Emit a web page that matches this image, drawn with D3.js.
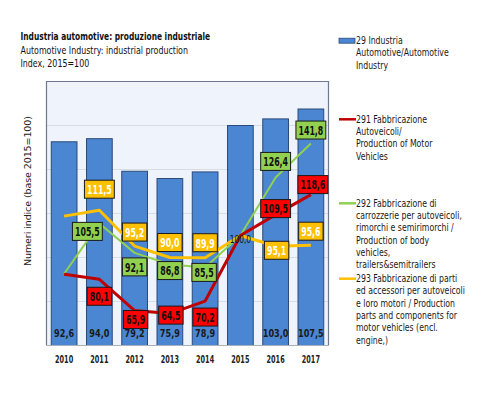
<!DOCTYPE html>
<html>
<head>
<meta charset="utf-8">
<script src="https://cdn.jsdelivr.net/npm/d3@7"></script>
<style>
  body { margin: 0; background: #fff; }
  svg text { font-family: "DejaVu Sans", sans-serif; }
</style>
</head>
<body>
<svg id="chart" width="485" height="393"></svg>
<script>
// Data
const years = ['2010', '2011', '2012', '2013', '2014', '2015', '2016', '2017']
const industry29 = [92.6, 94.0, 79.2, 75.9, 78.9, 100.0, 103.0, 107.5]
const vehicles291 = [82.4, 80.1, 65.9, 64.5, 70.2, 100.0, 109.5, 118.6]
const bodies292 = [82.6, 105.5, 92.1, 86.8, 85.5, 100.0, 126.4, 141.8]
const parts293 = [108.8, 111.5, 95.2, 90.0, 89.9, 100.0, 95.1, 95.6]
const barTicks = [20, 40, 60, 80, 100]

const titleLines = ['Industria automotive: produzione industriale', 'Automotive Industry: industrial production', 'Index, 2015=100']
const yTitle = 'Numeri indice (base 2015=100)'
const legendBlue = ['29 Industria', 'Automotive/Automotive', 'Industry']
const legendRed = ['291 Fabbricazione', 'Autoveicoli/', 'Production of Motor', 'Vehicles']
const legendGreen = ['292 Fabbricazione di', 'carrozzerie per autoveicoli,', 'rimorchi e semirimorchi /', 'Production of body', 'vehicles,', 'trailers&semitrailers']
const legendYellow = ['293 Fabbricazione di parti', 'ed accessori per autoveicoli', 'e loro motori / Production', 'parts and components for', 'motor vehicles (encl.', 'engine,)']

const fmt = v => d3.format('.1f')(v).replace('.', ',')

const svg = d3.select('#chart')
const plot = { left: 46.5, right: 328.5, top: 81.5, bottom: 345.5 }

const x = d3.scaleBand().domain(years).range([plot.left, plot.right]).paddingInner(0.27).paddingOuter(0.135)
const yBar = d3.scaleLinear().domain([0, 120]).range([plot.bottom, plot.top])
const yLine = d3.scaleLinear().domain([50, 170]).range([plot.bottom, plot.top])
const cx = d => x(d) + x.bandwidth() / 2

// the original uses a narrow font, squeeze the glyphs horizontally
const narrow = (sel, px, py, sx) => sel.attr('transform', `translate(${px},${py}) scale(${sx},1)`)

// Titles
svg.append('g').selectAll('text').data(titleLines).enter().append('text')
  .each(function (d, i) { narrow(d3.select(this), 20.5, 36 + i * 13.7, i === 0 ? 0.68 : 0.72) })
  .attr('dominant-baseline', 'central')
  .attr('font-size', 11)
  .attr('font-weight', (d, i) => i === 0 ? 'bold' : 'normal')
  .attr('fill', '#111')
  .text(d => d)

// Plot background + grid
svg.append('rect')
  .attr('x', plot.left).attr('y', plot.top)
  .attr('width', plot.right - plot.left).attr('height', plot.bottom - plot.top)
  .attr('fill', '#eef3fc')

svg.append('g').selectAll('line').data(barTicks).enter().append('line')
  .attr('x1', plot.left).attr('x2', plot.right)
  .attr('y1', d => yBar(d)).attr('y2', d => yBar(d))
  .attr('stroke', '#d8dce3').attr('stroke-width', 1)

// Bars
svg.append('g').selectAll('rect').data(industry29).enter().append('rect')
  .attr('x', (d, i) => x(years[i]))
  .attr('y', d => yBar(d))
  .attr('width', x.bandwidth())
  .attr('height', d => plot.bottom - yBar(d))
  .attr('fill', '#4a86d2')
  .attr('stroke', '#2c4a78')
  .attr('stroke-width', 1)

svg.append('g').selectAll('text').data(industry29).enter().append('text')
  .each(function (d, i) { narrow(d3.select(this), cx(years[i]), 333.5, 0.74) })
  .attr('text-anchor', 'middle')
  .attr('dominant-baseline', 'central')
  .attr('font-size', 11)
  .attr('font-weight', 'bold')
  .attr('fill', '#1a1a1a')
  .text((d, i) => years[i] === '2015' ? '' : fmt(d))

// Plot frame
svg.append('path')
  .attr('d', `M${plot.left},${plot.bottom}V${plot.top}H${plot.right}V${plot.bottom}`)
  .attr('fill', 'none').attr('stroke', '#6e7a92').attr('stroke-width', 1.2)
svg.append('line')
  .attr('x1', plot.left).attr('x2', plot.right)
  .attr('y1', plot.bottom).attr('y2', plot.bottom)
  .attr('stroke', '#a9b0bb').attr('stroke-width', 1)

// X axis labels
svg.append('g').selectAll('text').data(years).enter().append('text')
  .each(function (d) { narrow(d3.select(this), cx(d), 359, 0.62) })
  .attr('text-anchor', 'middle')
  .attr('dominant-baseline', 'central')
  .attr('font-size', 10.5)
  .attr('font-weight', 'bold')
  .attr('fill', '#222')
  .text(d => d)

// Y axis title
svg.append('text')
  .attr('transform', 'translate(27,191) rotate(-90)')
  .attr('text-anchor', 'middle')
  .attr('dominant-baseline', 'central')
  .attr('font-size', 9.5)
  .attr('fill', '#222')
  .attr('textLength', 150)
  .text(yTitle)

// Lines
const series = [
  { values: parts293, stroke: '#ffc000', width: 3, box: '#ffc000', text: '#fff', dy: [0, -21, -14, -15, -15, 0, 4, -14], dx: [0, 0, 0, 0, 0, 0, 1, 0] },
  { values: bodies292, stroke: '#92d050', width: 2, box: '#92d050', text: '#111', dy: [0, 8, 14, 6, 5, 0, -16, -13.5], dx: [0, -12, 0, 0, -1, 0, 0, 0] },
  { values: vehicles291, stroke: '#c00000', width: 3, box: '#ff0000', text: '#111', dy: [0, 17, 9, 1.5, 16, 0, -6, -10], dx: [0, 0, 1, 1, 0, 0, 0, 2] }
]

const line = d3.line()
  .x((d, i) => cx(years[i]))
  .y(d => yLine(d))

series.forEach(s => {
  svg.append('path')
    .datum(s.values)
    .attr('d', line)
    .attr('fill', 'none')
    .attr('stroke', s.stroke)
    .attr('stroke-width', s.width)
    .attr('stroke-linejoin', 'round')
})

// Data labels (boxes) -- 2010 has none, 2015 gets the shared 100,0
const labelSx = 0.63
series.forEach(s => {
  s.values.forEach((v, i) => {
    if (i === 0 || years[i] === '2015') return
    const g = svg.append('g')
      .attr('transform', `translate(${cx(years[i]) + s.dx[i]},${yLine(v) + s.dy[i]})`)
    const t = g.append('text')
      .attr('transform', `scale(${labelSx},1)`)
      .attr('text-anchor', 'middle')
      .attr('dominant-baseline', 'central')
      .attr('font-size', 12.5)
      .attr('font-weight', 'bold')
      .attr('fill', s.text)
      .text(fmt(v))
    const w = t.node().getComputedTextLength() * labelSx + 5
    g.insert('rect', 'text')
      .attr('x', -w / 2).attr('y', -9)
      .attr('width', w).attr('height', 18)
      .attr('fill', s.box)
      .attr('stroke', '#1a1a1a')
      .attr('stroke-width', 1)
  })
})

svg.append('text')
  .call(narrow, cx('2015'), yLine(100) + 3, 0.68)
  .attr('text-anchor', 'middle')
  .attr('dominant-baseline', 'central')
  .attr('font-size', 11)
  .attr('fill', '#111')
  .text(fmt(100))

// Legend
const legendItems = [
  { lines: legendBlue, y: 40.7, kind: 'bar', color: '#4a86d2' },
  { lines: legendRed, y: 119.3, kind: 'line', color: '#c00000' },
  { lines: legendGreen, y: 203.3, kind: 'line', color: '#92d050' },
  { lines: legendYellow, y: 278.7, kind: 'line', color: '#ffc000' }
]

legendItems.forEach(item => {
  if (item.kind === 'bar') {
    svg.append('rect')
      .attr('x', 339).attr('y', item.y - 2.5)
      .attr('width', 16).attr('height', 5)
      .attr('fill', item.color).attr('stroke', '#2c4a78').attr('stroke-width', 0.8)
  } else {
    svg.append('line')
      .attr('x1', 339).attr('x2', 356)
      .attr('y1', item.y).attr('y2', item.y)
      .attr('stroke', item.color).attr('stroke-width', 2.5)
  }
  svg.append('g').selectAll('text').data(item.lines).enter().append('text')
    .each(function (d, i) { narrow(d3.select(this), 356, item.y + i * 12.3, 0.78) })
    .attr('dominant-baseline', 'central')
    .attr('font-size', 10)
    .attr('fill', '#1a1a1a')
    .text(d => d)
})
</script>
</body>
</html>
